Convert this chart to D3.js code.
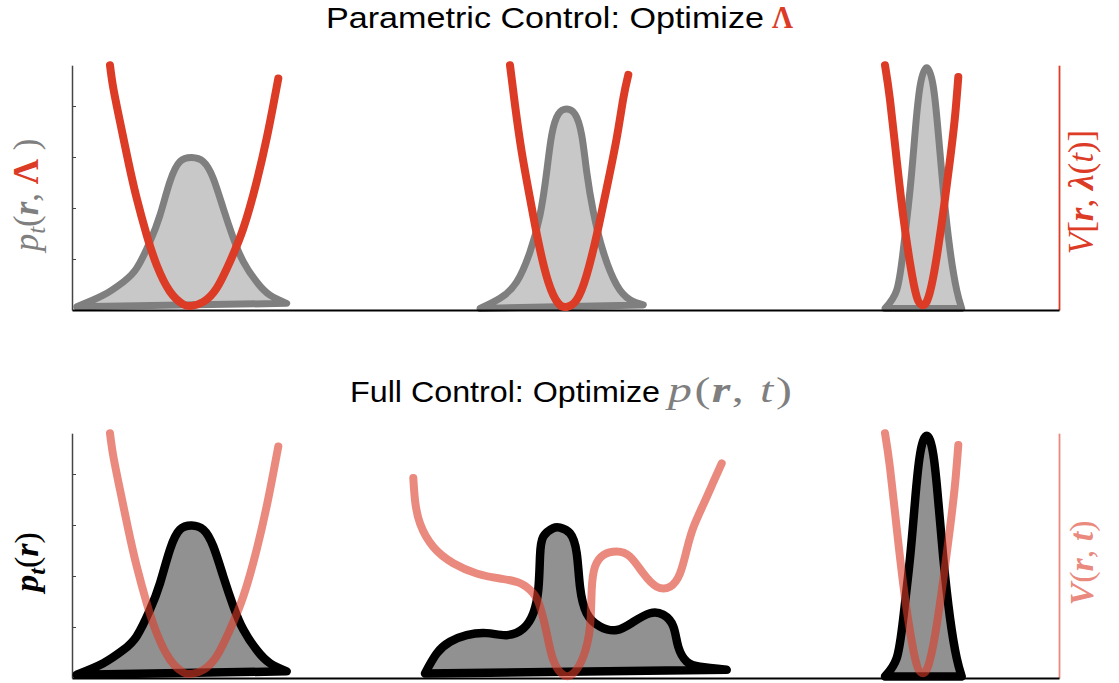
<!DOCTYPE html>
<html>
<head>
<meta charset="utf-8">
<script src="https://cdn.jsdelivr.net/npm/d3@7"></script>
<style>
body { margin: 0; background: #fff; }
svg text { font-family: "Liberation Serif", "DejaVu Serif", serif; }
</style>
</head>
<body>
<script>
// samples, [r, value]; r in 0..98.7, value in 0..48

// initial density and harmonic potential (left column, both rows)
const pStart = [[0.47,0.65],[3.13,2.9],[5.13,5.5],[6.47,8.2],[7.8,13.4],[8.8,18.6],[9.8,25.2],[10.8,29.1],[11.97,29.9],
    [13.13,29.1],[14.13,25.8],[15.13,19.9],[16.13,14.1],[17.13,9.5],[18.47,5.5],[19.8,2.9],[21.47,1.3]];
const vStart = [[3.8,48.0],[4.13,43.5],[4.8,36.9],[5.63,29.1],[6.47,21.9],[7.47,14.7],[8.47,8.8],[9.8,3.6],[11.13,1.1],
    [11.97,0.8],[13.13,1.6],[14.47,4.3],[15.8,9.5],[17.13,16.0],[18.47,25.2],[19.47,33.7],[20.13,40.2],[20.63,45.4]];

// parametric control, middle snapshot
const pParam = [[40.8,0.3],[42.8,2.3],[44.47,5.5],[45.8,11.4],[46.8,18.6],[47.47,27.1],[47.97,34.3],[48.63,38.4],[49.47,39.4],
    [50.3,38.4],[50.97,34.3],[51.47,27.1],[52.13,19.3],[53.13,11.4],[54.47,4.9],[55.8,2.0],[57.13,1.0]];
const vParam = [[43.8,48.0],[44.3,40.2],[44.97,31.0],[45.8,21.9],[46.63,13.4],[47.63,5.5],[48.63,1.3],[49.47,0.6],
    [50.47,2.0],[51.47,6.9],[52.47,14.7],[53.47,23.9],[54.47,33.7],[55.13,41.5],[55.63,46.1]];

// full control, middle snapshot
const pFull = [[35.3,0.9],[36.47,4.8],[37.8,7.1],[39.47,8.4],[41.47,8.8],[43.47,8.4],[45.13,9.7],[46.13,12.7],[46.63,17.3],
    [46.8,23.8],[47.13,27.7],[48.13,29.4],[48.8,29.5],[49.8,28.4],[50.47,24.5],[50.8,17.9],[51.47,12.7],[52.8,10.1],
    [54.47,9.4],[56.13,11.0],[57.8,12.7],[59.13,12.4],[60.13,10.1],[60.63,6.1],[61.47,3.2],[62.8,2.2],[65.47,1.6]];
const vFull = [[34.13,39.2],[34.3,34.9],[34.8,30.3],[36.13,25.7],[38.13,22.5],[40.47,20.5],[42.8,19.5],[44.8,18.6],
    [46.13,16.6],[46.8,14.0],[47.47,8.8],[48.13,3.5],[49.13,0.6],[50.13,0.9],[51.13,4.2],[51.8,10.1],[51.97,17.3],
    [52.3,21.8],[53.13,24.1],[54.47,24.8],[55.8,23.8],[57.13,20.5],[58.47,17.9],[59.8,17.9],[60.8,20.5],[61.47,25.1],
    [62.13,29.5],[63.13,34.0],[64.13,38.4],[64.97,42.1]];

// final target density and potential (right column, both rows)
const pEnd = [[81.3,0.3],[82.47,3.9],[83.13,11.8],[83.8,23.5],[84.3,34.6],[84.8,43.8],[85.47,47.5],
    [86.13,43.8],[86.63,34.6],[87.13,23.5],[87.8,11.8],[88.47,3.9],[88.97,0.3]];
const vEnd = [[81.3,48.0],[81.8,41.2],[82.47,29.4],[83.13,18.3],[83.8,9.2],[84.47,2.6],[84.97,1.0],[85.47,1.6],
    [86.13,6.5],[86.97,17.0],[87.8,29.4],[88.3,37.9],[88.63,45.7]];

const yTicks = [10, 20, 30, 40];

const W = 1119, H = 683;
const red = "#dc3b26";

const svg = d3.select("body").append("svg")
    .attr("width", W)
    .attr("height", H);

const x = d3.scaleLinear().domain([0, 98.7]).range([72, 1059]);

const panels = [
    { y0: 310, dens: [pStart, pParam, pEnd], pots: [vStart, vParam, vEnd],
      densStroke: "#7f7f7f", densFill: "#c8c8c8", densWidth: 7, potOpacity: 1 },
    { y0: 678, dens: [pStart, pFull, pEnd], pots: [vStart, vFull, vEnd],
      densStroke: "#000", densFill: "#919191", densWidth: 8.5, potOpacity: 0.6 }
];

panels.forEach(p => {
    const y = d3.scaleLinear().domain([0, 48]).range([p.y0, p.y0 - 244.8]);
    const v = d3.scaleLinear().domain([0, 48]).range([p.y0, p.y0 - 244.8]);
    const line = d3.line().x(d => x(d[0])).y(d => y(d[1])).curve(d3.curveNatural);
    const vline = d3.line().x(d => x(d[0])).y(d => v(d[1])).curve(d3.curveNatural);

    // left axis
    const ax = svg.append("g")
        .attr("transform", `translate(${x(0)},0)`)
        .call(d3.axisLeft(y).tickValues(yTicks).tickSize(-4).tickSizeOuter(0).tickFormat(""));
    ax.select(".domain").attr("stroke", "#444").attr("stroke-width", 1.5);
    ax.selectAll(".tick line").attr("stroke", "#444").attr("stroke-width", 1);

    // right axis (potential)
    const rx = svg.append("g")
        .attr("transform", `translate(${x(98.7)},0)`)
        .call(d3.axisRight(v).ticks(0).tickSizeOuter(0));
    rx.select(".domain").attr("stroke", red).attr("stroke-width", 1.8).attr("stroke-opacity", p.potOpacity);

    // densities
    svg.append("g").selectAll("path")
        .data(p.dens)
        .join("path")
        .attr("d", d => line(d) + "Z")
        .attr("fill", p.densFill)
        .attr("stroke", p.densStroke)
        .attr("stroke-width", p.densWidth)
        .attr("stroke-linejoin", "round");

    // bottom axis
    const bx = svg.append("g")
        .attr("transform", `translate(0,${p.y0})`)
        .call(d3.axisBottom(x).ticks(0).tickSizeOuter(0));
    bx.select(".domain").attr("stroke", "#000").attr("stroke-width", 2);

    // potentials
    svg.append("g").selectAll("path")
        .data(p.pots)
        .join("path")
        .attr("d", d => vline(d))
        .attr("fill", "none")
        .attr("stroke", red)
        .attr("stroke-opacity", p.potOpacity)
        .attr("stroke-width", 8)
        .attr("stroke-linecap", "round");
});

// titles (the source figure is a little stretched sideways, hence textLength)
const sans = "'Liberation Sans', Arial, sans-serif";
svg.append("text")
    .attr("x", 326).attr("y", 28)
    .attr("textLength", 438).attr("lengthAdjust", "spacingAndGlyphs")
    .style("font-family", sans).style("font-size", "29px")
    .text("Parametric Control: Optimize");
svg.append("text")
    .attr("x", 772).attr("y", 28)
    .attr("textLength", 21).attr("lengthAdjust", "spacingAndGlyphs")
    .attr("fill", red)
    .style("font-weight", "bold").style("font-size", "31px")
    .text("Λ");

svg.append("text")
    .attr("x", 350).attr("y", 402)
    .attr("textLength", 310).attr("lengthAdjust", "spacingAndGlyphs")
    .style("font-family", sans).style("font-size", "29px")
    .text("Full Control: Optimize");
const t2 = svg.append("text")
    .attr("x", 668).attr("y", 402)
    .attr("textLength", 124).attr("lengthAdjust", "spacingAndGlyphs")
    .attr("fill", "#7f7f7f")
    .style("font-size", "35px");
t2.append("tspan").text("p").style("font-style", "italic");
t2.append("tspan").text("(").attr("dx", 2);
t2.append("tspan").text("r").style("font-style", "italic").style("font-weight", "bold").attr("dx", 1);
t2.append("tspan").text(",").attr("dx", 1);
t2.append("tspan").text("t").style("font-style", "italic").attr("dx", 12);
t2.append("tspan").text(")").attr("dx", 2);

// axis labels
function label(cx, cy, color, size, parts) {
    const t = svg.append("text")
        .attr("transform", `translate(${cx},${cy}) rotate(-90)`)
        .attr("text-anchor", "middle")
        .attr("fill", color)
        .style("font-size", size + "px");
    parts.forEach(([s, st]) => {
        const ts = t.append("tspan").text(s);
        if (st.includes("i")) ts.style("font-style", "italic");
        if (st.includes("b")) ts.style("font-weight", "bold");
        if (st.includes("R")) ts.attr("fill", red);
        if (st.includes("s")) ts.style("font-size", (size - 10) + "px").attr("dy", 7);
        if (st.includes("u")) ts.attr("dy", -7);
    });
}

label(38, 195, "#7f7f7f", 35, [["p", "i"], ["t", "is"], ["(", "u"], ["r", "ib"], [", ", ""], ["Λ", "bR"], [" )", ""]]);
label(1093, 192, red, 35, [["V", "i"], ["[", ""], ["r", "ib"], [", ", ""], ["λ", "ib"], ["(", ""], ["t", "i"], [")]", ""]]);
label(38, 562, "#000", 34, [["p", "ib"], ["t", "ibs"], ["(", "u"], ["r", "ib"], [")", ""]]);
label(1093, 563, "rgba(220,59,38,0.6)", 34, [["V", "ib"], ["(", ""], ["r", "ib"], [", ", ""], ["t", "ib"], [")", ""]]);
</script>
</body>
</html>
